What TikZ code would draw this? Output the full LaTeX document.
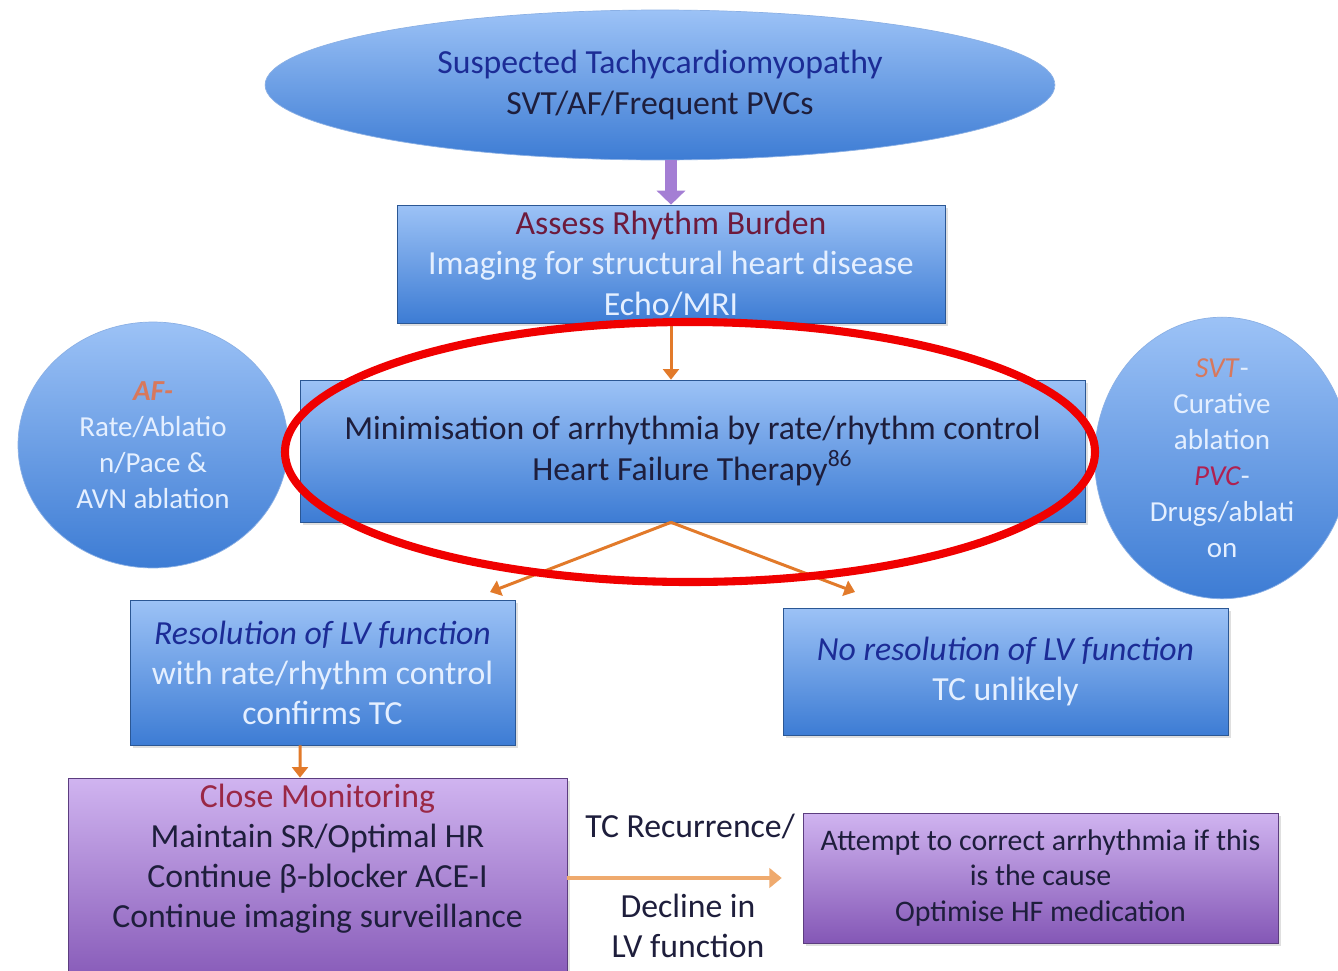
\documentclass[tikz,border=0pt]{standalone}
\usepackage{fontspec}
\setmainfont{Carlito}
\usetikzlibrary{arrows.meta,shapes.geometric,shadows}

\definecolor{boxtop}{HTML}{9CC2F6}
\definecolor{boxbot}{HTML}{3D7CD4}
\definecolor{purtop}{HTML}{D0B4F0}
\definecolor{purbot}{HTML}{8457B6}
\definecolor{lighttext}{HTML}{E4EFFF}
\definecolor{navytext}{HTML}{1C2C96}
\definecolor{darktext}{HTML}{1E1E3C}
\definecolor{maroontext}{HTML}{6E1A3C}
\definecolor{redtext}{HTML}{9A2846}
\definecolor{afred}{HTML}{D8785C}
\definecolor{pvcred}{HTML}{B02050}
\definecolor{arroworange}{HTML}{E27A2A}
\definecolor{arrowlight}{HTML}{EFAA6E}
\definecolor{arrowpurple}{HTML}{A47ED4}
\definecolor{ringred}{HTML}{F00000}

\tikzset{
  bluebox/.style={rectangle, draw=boxbot!70!black, line width=0.4pt,
    top color=boxtop, bottom color=boxbot, align=center, inner sep=0pt,
    drop shadow={opacity=0.25, shadow xshift=0.06cm, shadow yshift=-0.06cm}},
  purplebox/.style={rectangle, draw=purbot!70!black, line width=0.4pt,
    top color=purtop, bottom color=purbot, align=center, inner sep=0pt,
    drop shadow={opacity=0.25, shadow xshift=0.06cm, shadow yshift=-0.06cm}},
  blueoval/.style={ellipse, draw=boxbot!60!white, line width=0.4pt,
    top color=boxtop, bottom color=boxbot, align=center, inner sep=0pt},
  bigtext/.style={font=\fontsize{19.2}{22.8}\selectfont},
  smalltext/.style={font=\fontsize{17}{20.2}\selectfont},
  sidetext/.style={font=\fontsize{16.5}{20.5}\selectfont, text=lighttext},
  flow/.style={draw=arroworange, line width=1.7pt,
    -{Triangle[width=9pt,length=6pt]}},
}

\begin{document}
\begin{tikzpicture}[x=0.02cm, y=-0.02cm]
  \useasboundingbox (0,0) rectangle (1338,970);
  \clip (0,0) rectangle (1338,970);
  \fill[white] (0,0) rectangle (1338,970);

  % top oval
  \node[blueoval, minimum width=15.8cm, minimum height=3cm,
    bigtext] (suspect) at (660,85)
    {\textcolor{navytext}{Suspected Tachycardiomyopathy}\\
     \textcolor{darktext}{SVT/AF/Frequent PVCs}};

  % assessment box
  \node[bluebox, minimum width=10.96cm, minimum height=2.36cm,
    bigtext] (assess) at (671,264)
    {\textcolor{maroontext}{Assess Rhythm Burden}\\
     \textcolor{lighttext}{Imaging for structural heart disease}\\
     \textcolor{lighttext}{Echo/MRI}};

  % therapy box
  \node[bluebox, minimum width=15.7cm, minimum height=2.84cm,
    bigtext, text=darktext] (therapy) at (692.5,451)
    {Minimisation of arrhythmia by rate/rhythm control\\
     Heart Failure Therapy\textsuperscript{86}};

  % side ovals
  \node[blueoval, minimum width=5.4cm, minimum height=4.92cm,
    sidetext] (afoval) at (153,445)
    {\textcolor{afred}{\textbf{\textit{AF-}}}\\
     Rate/Ablatio\\ n/Pace \&\\ AVN ablation};
  \node[blueoval, minimum width=5.1cm, minimum height=5.4cm,
    sidetext] (svtoval) at (1222,458)
    {\textcolor{afred}{\textit{SVT}}-\\
     Curative\\ ablation\\
     \textcolor{pvcred}{\textit{PVC}}-\\
     Drugs/ablati\\ on};

  % outcome boxes
  \node[bluebox, minimum width=7.7cm, minimum height=2.9cm,
    bigtext] (resolved) at (322.5,672.5)
    {\textcolor{navytext}{\textit{Resolution of LV function}}\\
     \textcolor{lighttext}{with rate/rhythm control}\\
     \textcolor{lighttext}{confirms TC}};
  \node[bluebox, minimum width=8.9cm, minimum height=2.54cm,
    bigtext] (unresolved) at (1005.5,671.5)
    {\textcolor{navytext}{\textit{No resolution of LV function}}\\
     \textcolor{lighttext}{TC unlikely}};

  % monitoring box
  \node[purplebox, minimum width=9.98cm, minimum height=4.2cm] (monitor)
    at (317.5,883) {};
  \node[bigtext, text=darktext, align=center] (monitortext) at (317.5,859)
    {\textcolor{redtext}{Close Monitoring}\\
     Maintain SR/Optimal HR\\
     Continue β-blocker ACE-I\\
     Continue imaging surveillance};

  % correction box
  \node[purplebox, minimum width=9.5cm, minimum height=2.6cm,
    smalltext, text=darktext] (correct) at (1040.5,878)
    {Attempt to correct arrhythmia if this\\
     is the cause\\
     Optimise HF medication};

  % recurrence label
  \node[bigtext, text=darktext, align=center] (recur) at (690,826)
    {TC Recurrence/};
  \node[bigtext, text=darktext, align=center] (decline) at (688,926)
    {Decline in\\ LV function};

  % connectors
  \coordinate (lefttip) at (490,592);
  \coordinate (righttip) at (855,592);
  \coordinate (fork) at (assess.south |- therapy.south);
  \draw[draw=arrowpurple, line width=7pt,
    -{Triangle[width=16pt,length=8pt]}] (assess.north |- suspect.south) -- (assess.north);
  \draw[flow] (assess.south) -- (assess.south |- therapy.north);
  \draw[flow] (fork) -- (lefttip);
  \draw[flow] (fork) -- (righttip);
  \draw[flow] ([xshift=-0.45cm]resolved.south) -- ([xshift=-0.35cm]monitor.north);
  \draw[draw=arrowlight, line width=2.6pt, shorten >=0.42cm,
    -{Triangle[width=11pt,length=7pt]}] (monitor.east |- correct.west) -- (correct.west);

  % highlight ring
  \draw[ringred, line width=4.6pt] (690,452) ellipse (405 and 130);
\end{tikzpicture}
\end{document}
